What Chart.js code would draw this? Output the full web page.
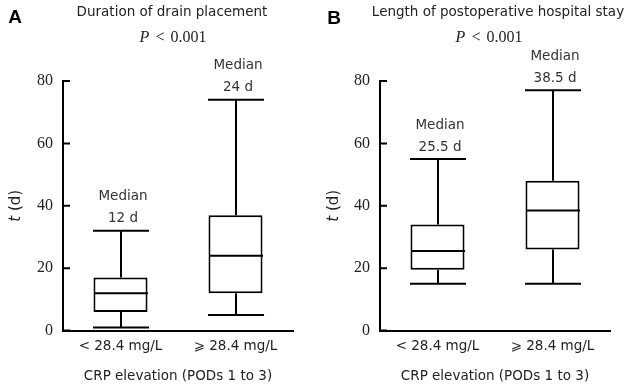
<!DOCTYPE html>
<html>
<head>
<meta charset="utf-8">
<script src="https://cdn.jsdelivr.net/npm/chart.js@4.4.0/dist/chart.umd.min.js"></script>
<style>
  body { margin: 0; background: #fff; }
  #wrap { position: relative; width: 629px; height: 391px; overflow: hidden; color: #222; }
  .panel { position: absolute; top: 0; height: 391px; }
  .txt { position: absolute; transform: translate(-50%, -50%); white-space: nowrap; line-height: 1; }
  .letter { font-family: "Liberation Sans", Arial, sans-serif; font-weight: bold; font-size: 19px; color: #000; }
  .title { font-family: "DejaVu Sans", sans-serif; font-size: 13.5px; }
  .pval { font-family: "Liberation Serif", serif; font-size: 16px; word-spacing: 2px; }
</style>
</head>
<body>
<div id="wrap">
  <div class="panel" style="left:0;width:314px"><canvas id="chartA"></canvas></div>
  <div class="panel" style="left:314px;width:315px"><canvas id="chartB"></canvas></div>

  <div class="txt letter" style="left:15px;top:16px">A</div>
  <div class="txt title" style="left:172px;top:12px">Duration of drain placement</div>
  <div class="txt pval" style="left:173px;top:37px"><i>P</i> &lt; 0.001</div>

  <div class="txt letter" style="left:334px;top:17px">B</div>
  <div class="txt title" style="left:498px;top:12px">Length of postoperative hospital stay</div>
  <div class="txt pval" style="left:489px;top:37px"><i>P</i> &lt; 0.001</div>
</div>

<script>
// groups on the x axis
const groups = ['< 28.4 mg/L', '\u2A7E 28.4 mg/L'];
const yTicks = [0, 20, 40, 60, 80];

// A: duration of drain placement (days)
const drainMin = [1, 5];
const drainQ1 = [6, 12];
const drainMedian = [12, 24];
const drainQ3 = [17, 37];
const drainMax = [32, 74];

// B: postoperative hospital stay (days)
const stayMin = [15, 15];
const stayQ1 = [19.5, 26];
const stayMedian = [25.5, 38.5];
const stayQ3 = [34, 48];
const stayMax = [55, 77];

const sansFont = '"DejaVu Sans", sans-serif';
const serifFont = '"Liberation Serif", serif';
const lineW = 2;

// whiskers, medians, labels, inward ticks and y title
const boxExtras = {
  id: 'boxExtras',
  afterDatasetsDraw(chart, args, opts) {
    const ctx = chart.ctx;
    const y = chart.scales.y;
    const area = chart.chartArea;
    const meta = chart.getDatasetMeta(0);
    ctx.save();
    ctx.strokeStyle = '#000';
    ctx.lineWidth = lineW;
    ctx.lineCap = 'butt';

    meta.data.forEach((bar, i) => {
      const cx = Math.round(bar.x);
      const half = bar.width / 2 + 1;
      const pMin = y.getPixelForValue(opts.min[i]);
      const pMax = y.getPixelForValue(opts.max[i]);
      const pQ1 = y.getPixelForValue(opts.q1[i]);
      const pQ3 = y.getPixelForValue(opts.q3[i]);
      const pMed = y.getPixelForValue(opts.median[i]);

      ctx.beginPath();
      // whiskers
      ctx.moveTo(cx, pQ3); ctx.lineTo(cx, pMax);
      ctx.moveTo(cx, pQ1); ctx.lineTo(cx, pMin);
      // caps
      ctx.moveTo(cx - half, pMax); ctx.lineTo(cx + half, pMax);
      ctx.moveTo(cx - half, pMin); ctx.lineTo(cx + half, pMin);
      // median
      ctx.moveTo(cx - bar.width / 2, pMed); ctx.lineTo(cx + bar.width / 2, pMed);
      ctx.stroke();

      // median label above the top cap
      ctx.fillStyle = '#333';
      ctx.font = '13.5px ' + sansFont;
      ctx.textAlign = 'center';
      ctx.textBaseline = 'middle';
      ctx.fillText('Median', cx + 2, pMax - 34);
      ctx.fillText(opts.median[i] + ' d', cx + 2, pMax - 12);
    });

    // inward tick marks on the y axis
    ctx.beginPath();
    yTicks.forEach(v => {
      const py = y.getPixelForValue(v);
      ctx.moveTo(area.left, py);
      ctx.lineTo(area.left + 7, py);
    });
    ctx.stroke();

    // y axis title: italic t, normal (d)
    ctx.translate(opts.titleX, (area.top + area.bottom) / 2);
    ctx.rotate(-Math.PI / 2);
    ctx.fillStyle = '#222';
    ctx.textBaseline = 'middle';
    ctx.textAlign = 'left';
    ctx.font = 'italic 15px ' + sansFont;
    const w1 = ctx.measureText('t ').width;
    ctx.font = '15px ' + sansFont;
    const w2 = ctx.measureText('(d)').width;
    const start = -(w1 + w2) / 2;
    ctx.font = 'italic 15px ' + sansFont;
    ctx.fillText('t ', start, 0);
    ctx.font = '15px ' + sansFont;
    ctx.fillText('(d)', start + w1, 0);
    ctx.restore();
  }
};

function makePanel(id, mins, q1s, medians, q3s, maxs, axisWidth, rightPad, titleX) {
  return new Chart(document.getElementById(id), {
    type: 'bar',
    data: {
      labels: groups,
      datasets: [{
        data: q1s.map((q, i) => [q, q3s[i]]),
        backgroundColor: '#fff',
        borderColor: '#000',
        borderWidth: lineW,
        borderSkipped: false,
        barPercentage: 0.47,
        categoryPercentage: 1
      }]
    },
    options: {
      responsive: true,
      maintainAspectRatio: false,
      animation: false,
      layout: { padding: { top: 81, right: rightPad, bottom: 6, left: 0 } },
      plugins: {
        legend: { display: false },
        tooltip: { enabled: false },
        boxExtras: { min: mins, q1: q1s, median: medians, q3: q3s, max: maxs, titleX: titleX }
      },
      scales: {
        x: {
          grid: { display: false, drawTicks: false, tickLength: 0 },
          border: { display: true, color: '#000', width: lineW },
          ticks: { color: '#222', font: { family: sansFont, size: 13.5 }, padding: 8, maxRotation: 0 },
          title: {
            display: true,
            text: 'CRP elevation (PODs 1 to 3)',
            color: '#222',
            font: { family: sansFont, size: 13.5 },
            padding: { top: 6, bottom: 0 }
          }
        },
        y: {
          min: 0,
          max: 80,
          grid: { display: false, drawTicks: false, tickLength: 0 },
          border: { display: true, color: '#000', width: lineW },
          ticks: { stepSize: 20, color: '#222', font: { family: serifFont, size: 16 }, padding: 10 },
          afterFit(scale) { scale.width = axisWidth; }
        }
      }
    },
    plugins: [boxExtras]
  });
}

makePanel('chartA', drainMin, drainQ1, drainMedian, drainQ3, drainMax, 63, 21, 16);
makePanel('chartB', stayMin, stayQ1, stayMedian, stayQ3, stayMax, 66, 19, 20);
</script>
</body>
</html>
